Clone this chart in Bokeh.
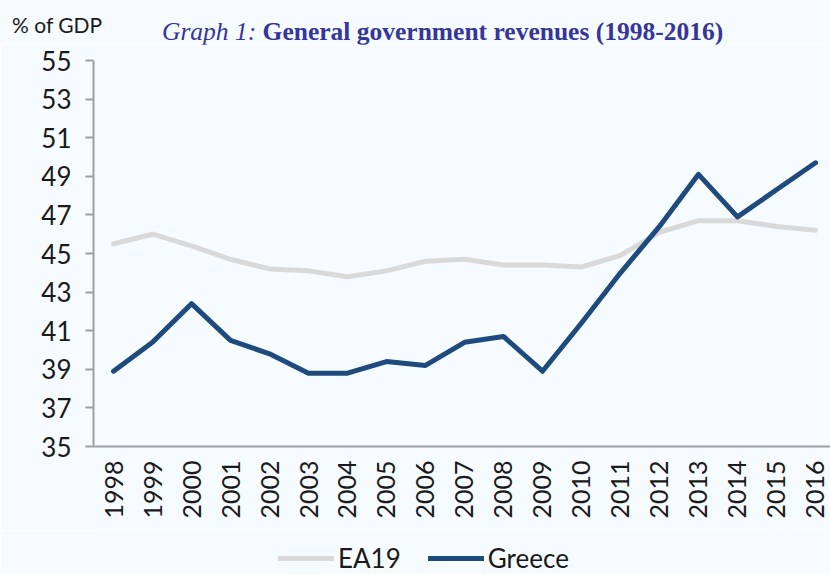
from bokeh.plotting import figure
from bokeh.layouts import column
from bokeh.models import (Range1d, FixedTicker, Legend, LegendItem,
                          ColumnDataSource, Div)
from bokeh.embed import file_html
from bokeh.resources import INLINE

# ---- data ----
years = [1998, 1999, 2000, 2001, 2002, 2003, 2004, 2005, 2006, 2007,
         2008, 2009, 2010, 2011, 2012, 2013, 2014, 2015, 2016]
ea19 = [45.5, 46.0, 45.4, 44.7, 44.2, 44.1, 43.8, 44.1, 44.6, 44.7,
        44.4, 44.4, 44.3, 44.9, 46.1, 46.7, 46.7, 46.4, 46.2]
greece = [38.9, 40.4, 42.4, 40.5, 39.8, 38.8, 38.8, 39.4, 39.2, 40.4,
          40.7, 38.9, 41.4, 44.0, 46.4, 49.1, 46.9, 48.3, 49.7]
y_ticks = [35, 37, 39, 41, 43, 45, 47, 49, 51, 53, 55]
series_names = ["EA19", "Greece"]
series_cols = ["ea19", "greece"]
series_colors = ["#D9D9D9", "#1F4A7D"]
title_lead = "Graph 1:"
title_main = "General government revenues (1998-2016)"
unit_label = "% of GDP"

BG = "#F5FBFE"
FONT = "Lato"
W = 830
H_HEAD, H_MAIN, H_FOOT = 44, 486, 44

# ---- header (title + unit) ----
header_html = (
    f'<div style="position:relative;width:{W}px;height:{H_HEAD}px;'
    f'background:{BG};overflow:visible;">'
    f'<span style="position:absolute;left:12px;top:14px;line-height:1;'
    f'font-family:{FONT};font-size:21px;color:#1A1A1A;white-space:nowrap;">'
    f'{unit_label}</span>'
    f'<span style="position:absolute;left:162px;top:19px;line-height:1;'
    f'font-family:\'Liberation Serif\';font-size:25.5px;color:#35359A;'
    f'white-space:nowrap;"><i>{title_lead}</i> <b>{title_main}</b></span>'
    f'</div>'
)
head = Div(text=header_html, width=W, height=H_HEAD,
           styles={"background-color": BG, "margin": "0", "padding": "0"})

# ---- main chart ----
src = ColumnDataSource(dict(year=years, ea19=ea19, greece=greece))
x_rng = Range1d(1997.487, 2016.385)

p = figure(width=W, height=H_MAIN, output_backend="svg", toolbar_location=None,
           x_range=x_rng, y_range=Range1d(35, 55),
           min_border_left=93, min_border_right=0, min_border_top=16,
           min_border_bottom=84)
p.background_fill_color = BG
p.border_fill_color = BG
p.outline_line_color = None
p.xgrid.visible = False
p.ygrid.visible = False

for col_name, color in zip(series_cols, series_colors):
    p.line("year", col_name, source=src, line_color=color,
           line_width=5, line_cap="round", line_join="round")

for ax in (p.xaxis[0], p.yaxis[0]):
    ax.axis_line_color = "#A0A0A0"
    ax.axis_line_width = 2
    ax.major_tick_line_color = "#A0A0A0"
    ax.major_tick_line_width = 2
    ax.minor_tick_line_color = None
    ax.major_label_text_font = FONT
    ax.major_label_text_font_size = "25px"
    ax.major_label_text_color = "#1A1A1A"

p.xaxis.ticker = FixedTicker(ticks=years)
p.xaxis.major_tick_out = 0
p.xaxis.major_tick_in = 0
p.xaxis.major_label_orientation = 1.5708
p.xaxis.major_label_standoff = 14

p.yaxis.ticker = FixedTicker(ticks=y_ticks)
p.yaxis.major_tick_out = 8
p.yaxis.major_tick_in = 0
p.yaxis.major_label_standoff = 14
p.yaxis.major_label_text_font_size = "26px"

# ---- footer with legend (series drawn outside its y-range, only keys show) ----
foot = figure(width=W, height=H_FOOT, output_backend="svg",
              toolbar_location=None, x_range=x_rng, y_range=Range1d(0, 1),
              x_axis_type=None, y_axis_type=None, min_border=0,
              min_border_left=0, min_border_right=0, min_border_top=0,
              min_border_bottom=0)
foot.background_fill_color = BG
foot.border_fill_color = BG
foot.outline_line_color = None
foot.xgrid.visible = False
foot.ygrid.visible = False
items = []
for name, col_name, color in zip(series_names, series_cols, series_colors):
    r = foot.line("year", col_name, source=src, line_color=color,
                  line_width=5, line_cap="round")
    items.append(LegendItem(label=name, renderers=[r]))
legend = Legend(items=items, location=(185, 0), orientation="horizontal",
                padding=0, margin=0, spacing=27, glyph_width=56,
                glyph_height=26, label_standoff=4,
                label_text_font=FONT, label_text_font_size="26px",
                label_text_color="#1A1A1A",
                border_line_color=None, background_fill_alpha=0)
foot.add_layout(legend, "center")

layout = column(head, p, foot, spacing=0)
open("out.html", "w").write(file_html(layout, INLINE))
